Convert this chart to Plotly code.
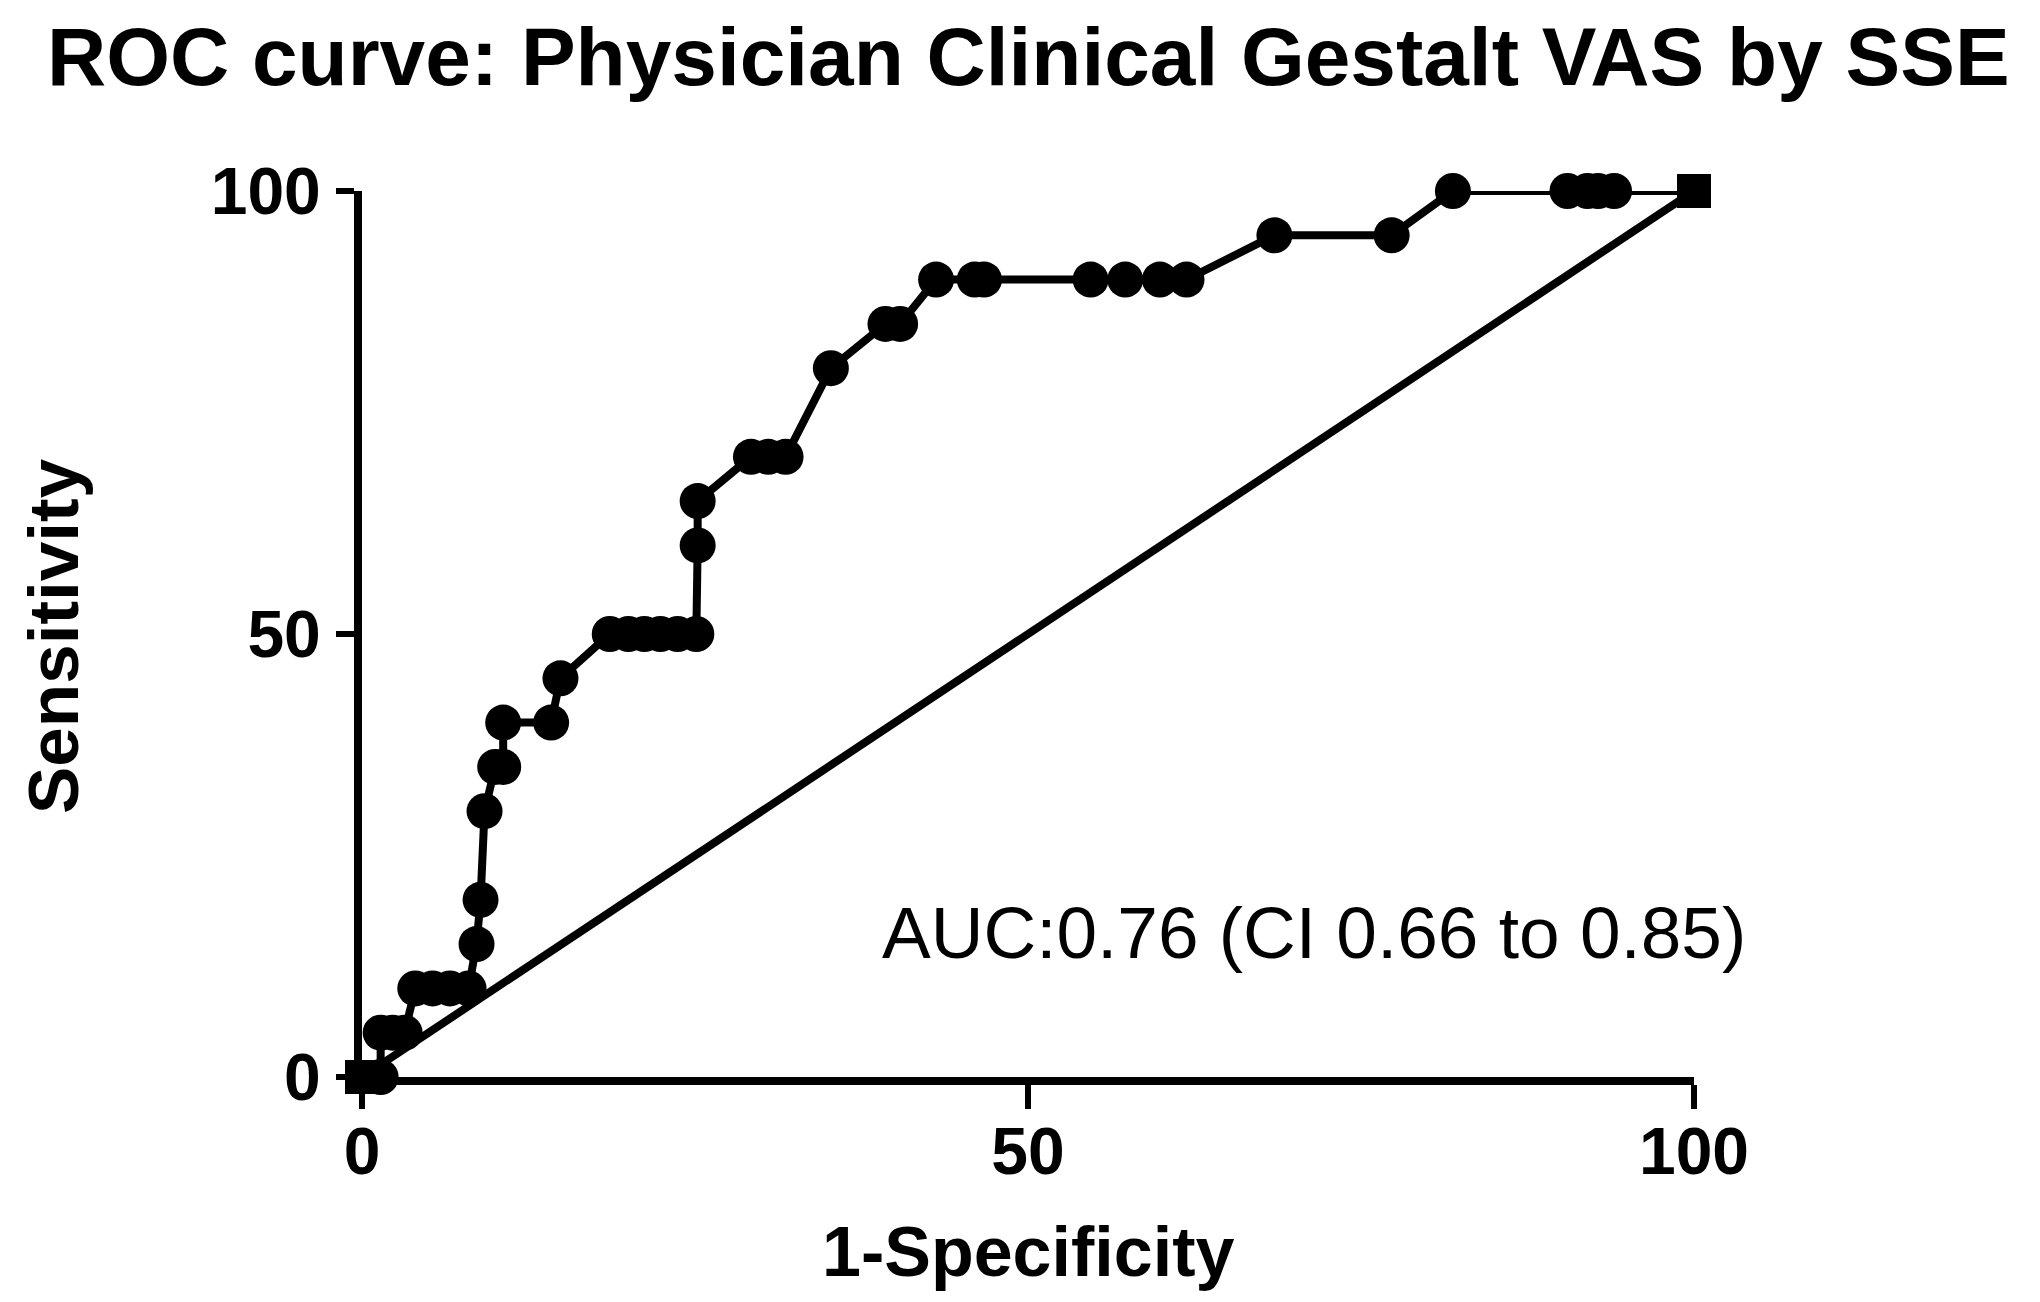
import plotly.graph_objects as go

# ROC points (1-Specificity %, Sensitivity %)
fpr = [0, 1.4, 1.4, 2.3, 3.2, 4.0, 5.3, 6.6, 8.0, 8.6, 8.9, 9.2, 10.0, 10.6, 10.6,
       14.2, 14.9, 18.6, 20.0, 21.2, 22.4, 23.7, 25.1, 25.2, 25.2, 29.2, 30.5, 31.8,
       35.2, 39.3, 40.4, 43.1, 46.0, 46.7, 54.7, 57.3, 59.9, 61.9, 68.5, 77.3, 81.9,
       90.5, 92.0, 92.8, 94.0, 100]
sens = [0, 0, 5, 5, 5, 10, 10, 10, 10, 15, 20, 30, 35, 35, 40,
        40, 45, 50, 50, 50, 50, 50, 50, 60, 65, 70, 70, 70,
        80, 85, 85, 90, 90, 90, 90, 90, 90, 90, 95, 95, 100,
        100, 100, 100, 100, 100]
diag_x = [0, 100]
diag_y = [0, 100]
x_ticks = [0, 50, 100]
y_ticks = [0, 50, 100]

title_text = "ROC curve: Physician Clinical Gestalt VAS by SSE"
auc_text = "AUC:0.76 (CI 0.66 to 0.85)"

FONT = "Liberation Sans, Arial, sans-serif"

fig = go.Figure()
fig.add_trace(go.Scatter(x=diag_x, y=diag_y, mode="lines",
                         line=dict(color="black", width=8), cliponaxis=False,
                         hoverinfo="skip"))
fig.add_trace(go.Scatter(x=fpr, y=sens, mode="lines",
                         line=dict(color="black", width=8), cliponaxis=False))
fig.add_trace(go.Scatter(x=fpr[1:-1], y=sens[1:-1], mode="markers",
                         marker=dict(symbol="circle", size=36, color="black"),
                         cliponaxis=False))
fig.add_trace(go.Scatter(x=[fpr[0], fpr[-1]], y=[sens[0], sens[-1]], mode="markers",
                         marker=dict(symbol="square", size=34, color="black"),
                         cliponaxis=False))

axis_common = dict(
    showgrid=False, zeroline=False, showline=True, linecolor="black", linewidth=8,
    ticks="outside", tickcolor="black", tickwidth=6,
    tickfont=dict(family=FONT, size=66, color="black", weight="bold"),
    range=[0, 100], tickmode="array",
)
fig.update_xaxes(**axis_common, tickvals=x_ticks, ticklen=24, ticklabelstandoff=-14)
fig.update_yaxes(**axis_common, tickvals=y_ticks, ticklen=18, ticklabelstandoff=2)

fig.update_layout(
    width=2040, height=1302,
    margin=dict(l=354, r=354, t=183, b=233),
    paper_bgcolor="white", plot_bgcolor="white",
    showlegend=False,
    annotations=[
        dict(text=title_text, xref="paper", yref="paper", x=0.5, y=1 + (183 - 2) / 886,
             xanchor="center", yanchor="top", showarrow=False, borderpad=0,
             font=dict(family=FONT, size=82, color="black", weight="bold")),
        dict(text="1-Specificity", xref="paper", yref="paper", x=0.5, y=-(1244 - 1069) / 886,
             xanchor="center", yanchor="middle", showarrow=False,
             font=dict(family=FONT, size=70, color="black", weight="bold")),
        dict(text="Sensitivity", xref="paper", yref="paper", x=-(354 - 45) / 1332, y=(1069 - 628) / 886,
             xanchor="center", yanchor="middle", showarrow=False, textangle=-90,
             font=dict(family=FONT, size=71, color="black", weight="bold")),
        dict(text=auc_text, xref="x", yref="y", x=71.5, y=16.3,
             xanchor="center", yanchor="middle", showarrow=False,
             font=dict(family=FONT, size=73, color="black")),
    ],
)

fig.write_html("out.html")
